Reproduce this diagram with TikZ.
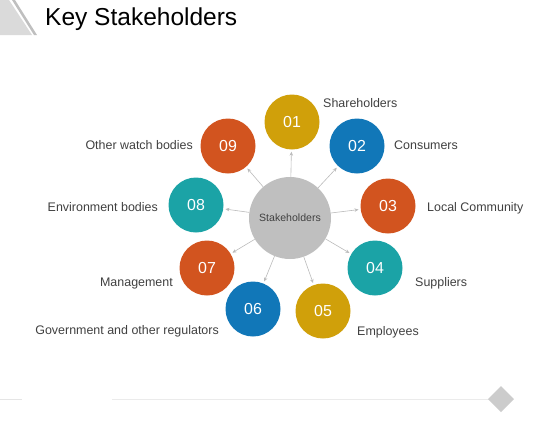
\documentclass[tikz,border=0pt]{standalone}
\usepackage{fontspec}
\setmainfont{Liberation Sans}
\usetikzlibrary{arrows.meta}
\definecolor{gold}{HTML}{D0A00A}
\definecolor{ocean}{HTML}{1177B8}
\definecolor{rust}{HTML}{D2541F}
\definecolor{teal}{HTML}{1BA3A6}
\definecolor{hubgray}{HTML}{BFBFBF}
\definecolor{labgray}{HTML}{404040}
\definecolor{arrgray}{HTML}{BBBBBB}
\definecolor{deco}{HTML}{DADADA}
\tikzset{
	num/.style={circle,minimum size=55bp,inner sep=0pt,text=white,font=\fontsize{16}{16}\selectfont},
	lab/.style={text=labgray,inner sep=0pt,text height=9bp,text depth=2.5bp,font=\fontsize{12.5}{13}\selectfont},
	link/.style={draw=arrgray,line width=0.6bp,-{Stealth[length=4bp,width=3.5bp]},shorten >=2bp}
}
\begin{document}
\begin{tikzpicture}[x=1bp,y=-1bp]
	\useasboundingbox (0,0) rectangle (560,420);
		% corner and footer
		\fill[deco] (0,0)--(9,0)--(32,35)--(0,35)--cycle;
		\fill[hubgray] (12,0)--(15,0)--(37,35)--(34,35)--cycle;
		\node[anchor=west,inner sep=0pt,font=\fontsize{24.6}{25}\selectfont] (title) at (45,19) {Key Stakeholders};
		\draw[deco!70,line width=1bp] (0,399)--(22,399);
		\draw[deco!55,line width=0.8bp] (112,399)--(490,399);
		\fill[hubgray!80] (501,386)--(514,399)--(501,412)--(488,399)--cycle;
	% hub and circles
	\node[circle,fill=hubgray,minimum size=82bp,inner sep=0pt,text=labgray,font=\fontsize{10.6}{11}\selectfont] (hub) at (290,218) {Stakeholders};
		\node[num,fill=gold] (c1) at (292,122) {01};
		\node[num,fill=ocean] (c2) at (357,146) {02};
		\node[num,fill=rust] (c3) at (388,206) {03};
		\node[num,fill=teal] (c4) at (375,268) {04};
		\node[num,fill=gold] (c5) at (323,311) {05};
		\node[num,fill=ocean] (c6) at (253,309) {06};
		\node[num,fill=rust] (c7) at (207,268) {07};
		\node[num,fill=teal] (c8) at (196,205) {08};
		\node[num,fill=rust] (c9) at (228,146) {09};
	\foreach \k in {1,...,9}
		\draw[link] (hub)--(c\k);
	% labels
		\node[lab,anchor=west] (l1) at (323,104.5) {Shareholders};
		\node[lab,anchor=west] (l2) at (394,146.5) {Consumers};
		\node[lab,anchor=west] (l3) at (427,208.5) {Local Community};
		\node[lab,anchor=west] (l4) at (415,283.5) {Suppliers};
		\node[lab,anchor=west] (l5) at (357,332.5) {Employees};
		\node[lab,anchor=east] (l6) at (219,331.5) {Government and other regulators};
		\node[lab,anchor=east] (l7) at (173,283.5) {Management};
		\node[lab,anchor=east] (l8) at (158,208.5) {Environment bodies};
		\node[lab,anchor=east] (l9) at (193,146.5) {Other watch bodies};
\end{tikzpicture}
\end{document}
